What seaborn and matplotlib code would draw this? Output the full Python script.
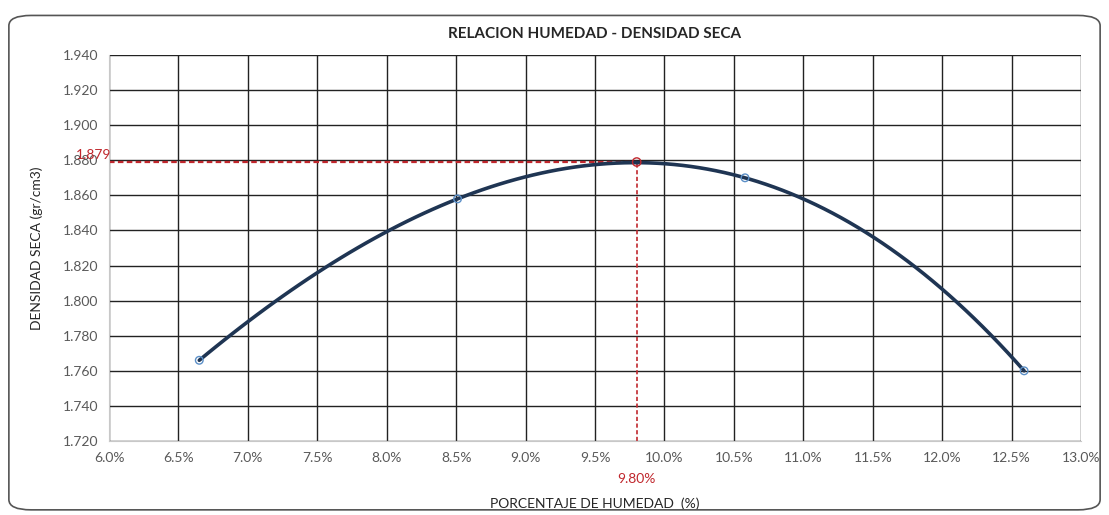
import numpy as np
import pandas as pd
import seaborn as sns
import matplotlib.pyplot as plt
from matplotlib.patches import FancyBboxPatch
from matplotlib.ticker import FuncFormatter, MultipleLocator

# Proctor test points (moisture %, dry density gr/cm3)
humedad = [6.65, 8.51, 10.58, 12.59]
densidad = [1.766, 1.858, 1.870, 1.760]

# optimum
humedad_opt = 9.80
densidad_max = 1.879

df = pd.DataFrame({"humedad": humedad, "densidad": densidad})

sns.set_style("white")
plt.rcParams["font.family"] = ["Lato", "DejaVu Sans"]

fig = plt.figure(figsize=(11.09, 5.15), dpi=100)
ax = fig.add_axes([0.0983, 0.1437, 0.8765, 0.7495])

# rounded frame around the whole chart
fig.patches.append(FancyBboxPatch((0.008, 0.01), 0.984, 0.96,
                                  boxstyle="round,pad=0,rounding_size=0.02",
                                  transform=fig.transFigure, fill=False,
                                  edgecolor="#555555", linewidth=1.2, zorder=0))

# cubic trend through the test points
sns.regplot(data=df, x="humedad", y="densidad", order=3, ci=None,
            scatter=False, truncate=True, ax=ax,
            line_kws={"color": "#1f3553", "linewidth": 2.6, "zorder": 3})
sns.scatterplot(data=df, x="humedad", y="densidad", ax=ax, s=30,
                facecolor="none", edgecolor="#5b8fc7", linewidth=1.0, zorder=4)

# optimum marker and guide lines
ax.plot([6.0, humedad_opt], [densidad_max, densidad_max], color="#c0272d",
        linestyle=(0, (2.5, 1.5)), linewidth=1.6, zorder=2)
ax.plot([humedad_opt, humedad_opt], [1.72, densidad_max], color="#c0272d",
        linestyle=(0, (2.5, 1.5)), linewidth=1.2, zorder=2)
ax.scatter([humedad_opt], [densidad_max], s=36, facecolor="none",
           edgecolor="#c0272d", linewidth=1.0, zorder=5)

ax.set_xlim(6.0, 13.0)
ax.set_ylim(1.72, 1.94)
ax.xaxis.set_major_locator(MultipleLocator(0.5))
ax.yaxis.set_major_locator(MultipleLocator(0.02))
ax.xaxis.set_major_formatter(FuncFormatter(lambda v, p: f"{v:.1f}%"))
ax.yaxis.set_major_formatter(FuncFormatter(lambda v, p: f"{v:.3f}"))
ax.tick_params(labelsize=10, colors="#595959", length=0, pad=8)

ax.grid(True, color="#222222", linewidth=1.0)
ax.set_axisbelow(True)
for side in ["top", "right"]:
    ax.spines[side].set_visible(False)
for side in ["left", "bottom"]:
    ax.spines[side].set_color("#c8c8c8")

ax.text(5.89, densidad_max + 0.0008, f"{densidad_max:.3f}", color="#c0272d",
        fontsize=10, ha="center", va="bottom")
ax.text(humedad_opt, 1.72 - 0.0185, f"{humedad_opt:.2f}%", color="#c0272d",
        fontsize=10, ha="center", va="top")

ax.set_title("RELACION HUMEDAD - DENSIDAD SECA", fontsize=11, fontweight="bold",
             pad=12)
ax.set_xlabel("PORCENTAJE DE HUMEDAD  (%)", fontsize=10, labelpad=24)
ax.set_ylabel("DENSIDAD SECA (gr/cm3)", fontsize=10, labelpad=14)

fig.savefig("out.png", dpi=100)
